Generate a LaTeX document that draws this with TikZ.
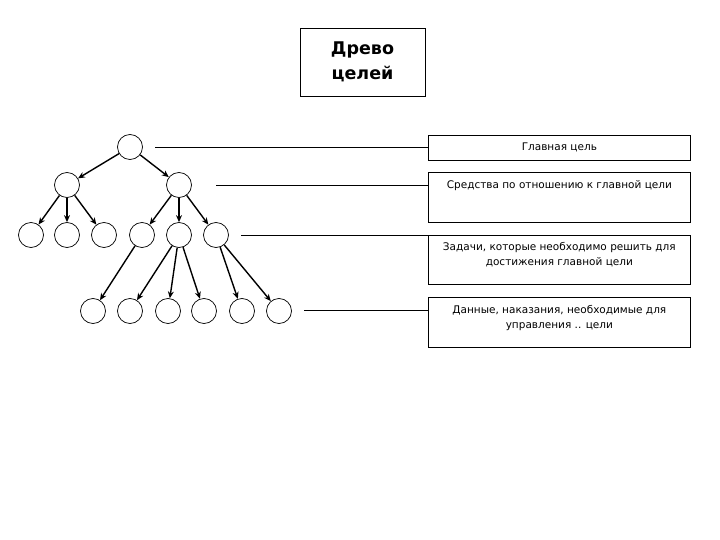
\documentclass[tikz,border=0pt]{standalone}
\usepackage{fontspec}
\setmainfont{DejaVu Sans}
\usetikzlibrary{arrows.meta,calc}

\begin{document}
\begin{tikzpicture}[x=1pt,y=-1pt,>={Stealth[length=7pt,width=6pt]},
  goal/.style={draw,circle,line width=0.7pt,minimum size=25pt,inner sep=0pt},
  link/.style={->,line width=1.4pt},
  lvl/.style={draw,line width=0.7pt,minimum width=262pt,anchor=north west,inner sep=0pt},
  lvltext/.style={anchor=north,align=center,inner sep=0pt,font=\fontsize{10.5}{14.5}\selectfont},
  rule/.style={line width=0.9pt}]
  \useasboundingbox (0,0) rectangle (720,540);
  % title
  \node[draw,line width=0.7pt,minimum width=125pt,minimum height=68pt,align=center,
    font=\fontsize{17.5}{25}\selectfont\bfseries] (title) at (362.5,62) {Древо\\целей};
  % tree of goals
  \node[goal] (r) at (130,147) {};
  \foreach \i/\x in {1/67,2/179} \node[goal] (a\i) at (\x,185) {};
  \foreach \i/\x in {1/31,2/67,3/104,4/142,5/179,6/216} \node[goal] (b\i) at (\x,235) {};
  \foreach \i/\x in {1/93,2/130,3/168,4/204,5/242,6/279} \node[goal] (c\i) at (\x,311) {};
  \foreach \t in {a1,a2} \draw[link] (r) -- (\t);
  \foreach \t in {b1,b2,b3} \draw[link] (a1) -- (\t);
  \foreach \t in {b4,b5,b6} \draw[link] (a2) -- (\t);
  \draw[link] (b4) -- (c1);
  \foreach \t in {c2,c3,c4} \draw[link] (b5) -- (\t);
  \foreach \t in {c5,c6} \draw[link] (b6) -- (\t);
  % levels
  \node[lvl,minimum height=25pt] (g1) at (428,135) {};
  \node[lvl,minimum height=50pt] (g2) at (428,172) {};
  \node[lvl,minimum height=49pt] (g3) at (428,235) {};
  \node[lvl,minimum height=50pt] (g4) at (428,297) {};
  \node[lvltext] (t1) at ($(g1.north)+(0,8)$) {Главная цель};
  \node[lvltext] (t2) at ($(g2.north)+(0,8)$) {Средства по отношению к главной цели};
  \node[lvltext] (t3) at ($(g3.north)+(0,7.5)$) {Задачи, которые необходимо решить для\\достижения главной цели};
  \node[lvltext] (t4) at ($(g4.north)+(0,8.5)$) {Данные, наказания, необходимые для\\управления .. цели};
  % level rules
  \coordinate (s1) at (155,147.5);
  \coordinate (s2) at (216,185);
  \coordinate (s3) at (241,235);
  \coordinate (s4) at (304,310);
  \foreach \i in {1,2,3,4} \draw[rule] (s\i) -- (s\i -| g\i.west);
\end{tikzpicture}
\end{document}
